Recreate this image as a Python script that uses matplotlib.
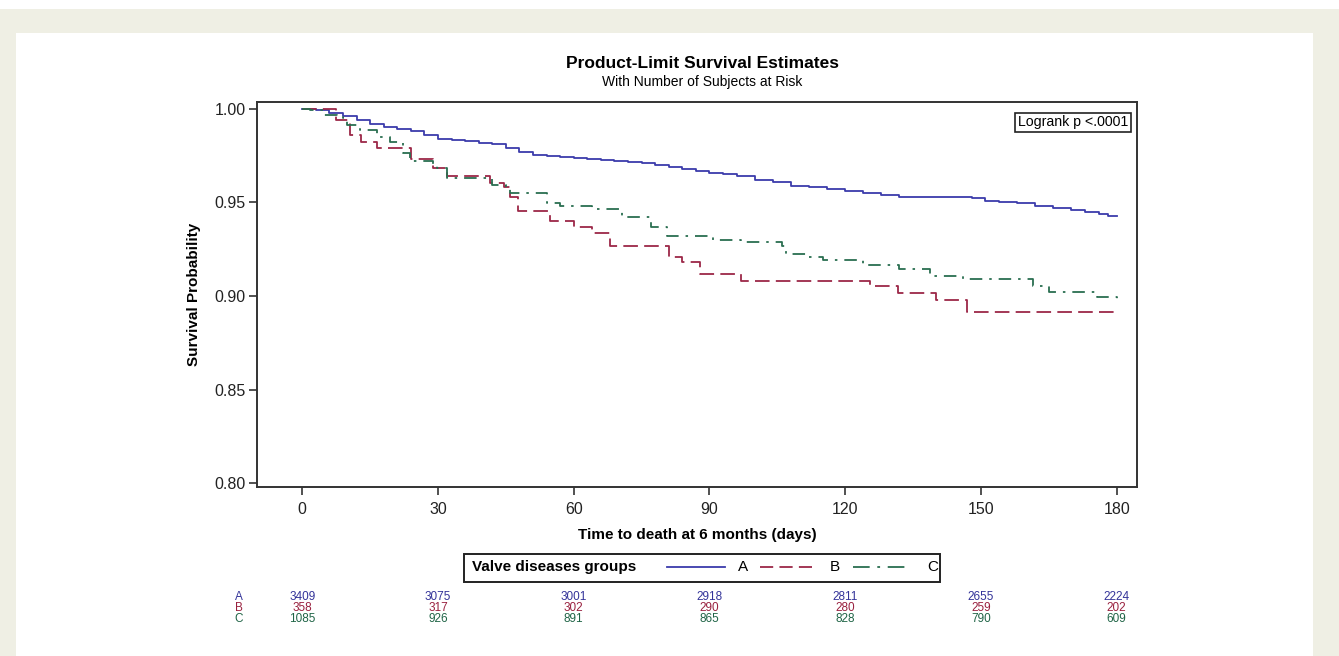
import matplotlib
matplotlib.use("Agg")
import matplotlib.pyplot as plt
from matplotlib import font_manager
from matplotlib.patches import Rectangle
from matplotlib.lines import Line2D
import matplotlib.transforms as mtransforms

# Kaplan-Meier step estimates (day, survival after step)
days_A = [0, 3, 6, 9, 12, 15, 18, 21, 24, 27, 30, 33, 36, 39, 42, 45, 48, 51,
          54, 57, 60, 63, 66, 69, 72, 75, 78, 81, 84, 87, 90, 93, 96, 100, 104,
          108, 112, 116, 120, 124, 128, 132, 148, 151, 154, 158, 162, 166, 170,
          173, 176, 178, 180]
surv_A = [1.000, 0.9995, 0.998, 0.996, 0.994, 0.992, 0.9905, 0.9895, 0.988,
          0.986, 0.984, 0.9835, 0.983, 0.982, 0.981, 0.979, 0.977, 0.9755,
          0.975, 0.9745, 0.974, 0.973, 0.9725, 0.972, 0.9715, 0.971, 0.970,
          0.969, 0.968, 0.967, 0.966, 0.965, 0.964, 0.962, 0.961, 0.959,
          0.958, 0.957, 0.956, 0.955, 0.954, 0.953, 0.9525, 0.951, 0.950,
          0.9495, 0.948, 0.947, 0.946, 0.945, 0.944, 0.943, 0.943]

days_B = [0, 7.5, 10.5, 13, 16.5, 24, 29, 32, 41.5, 44.5, 46, 47.7, 54.8, 60,
          64, 68, 81, 84, 88, 97, 125.5, 131.6, 140, 147, 180]
surv_B = [1.000, 0.994, 0.986, 0.9825, 0.979, 0.973, 0.9686, 0.9644, 0.9606,
          0.9585, 0.953, 0.9457, 0.940, 0.9367, 0.9335, 0.9266, 0.921, 0.918,
          0.9117, 0.908, 0.9053, 0.9016, 0.898, 0.8915, 0.8915]

days_C = [0, 1.8, 4.7, 7.7, 9, 10, 12.8, 16.5, 19.4, 22.3, 23.8, 29, 29.8, 32,
          42, 45, 46, 54, 57, 64, 70.7, 77, 80.6, 90.8, 97, 106, 107, 112, 115,
          124, 132, 138.7, 146, 161.5, 165, 175.6, 180]
surv_C = [1.000, 0.9995, 0.997, 0.996, 0.995, 0.9915, 0.989, 0.985, 0.9825,
          0.9766, 0.9723, 0.970, 0.9686, 0.963, 0.9596, 0.9585, 0.9553, 0.9495,
          0.948, 0.9463, 0.942, 0.937, 0.932, 0.930, 0.9287, 0.9266, 0.9223,
          0.9207, 0.919, 0.9165, 0.9144, 0.9107, 0.909, 0.9053, 0.902, 0.8995,
          0.898]

groups = ["A", "B", "C"]
risk_days = [0, 30, 60, 90, 120, 150, 180]
risk_A = [3409, 3075, 3001, 2918, 2811, 2655, 2224]
risk_B = [358, 317, 302, 290, 280, 259, 202]
risk_C = [1085, 926, 891, 865, 828, 790, 609]

line_col = {"A": "#3c3cab", "B": "#9c2848", "C": "#2a6e50"}
text_col = {"A": "#333399", "B": "#99203e", "C": "#1f6446"}
dash = {"A": None, "B": (0, (10.5, 4.5)), "C": (0, (9.0, 5.0, 1.8, 5.0))}
legend_dash = {"A": None, "B": (0, (9.5, 4.5)), "C": (0, (12.0, 5.5, 2.0, 5.5))}

names = {f.name for f in font_manager.fontManager.ttflist}
narrow = "Liberation Sans Narrow" if "Liberation Sans Narrow" in names else "Liberation Sans"

plt.rcParams["font.family"] = "Liberation Sans"
plt.rcParams["lines.scale_dashes"] = False

W, H = 1339, 656
fig = plt.figure(figsize=(W / 100, H / 100), dpi=100, facecolor="white")

# beige frame with white panel
fig.add_artist(Rectangle((0, 0), 1, 1 - 9 / H, transform=fig.transFigure,
                         facecolor="#efefe4", edgecolor="none", zorder=-10))
fig.add_artist(Rectangle((16 / W, 0), (1313 - 16) / W, 1 - 33 / H,
                         transform=fig.transFigure, facecolor="white",
                         edgecolor="none", zorder=-9))

ax = fig.add_axes([257 / W, 1 - 487 / H, (1137 - 257) / W, (487 - 102) / H])
ax.set_facecolor("white")

for g, d, s in [("A", days_A, surv_A), ("B", days_B, surv_B), ("C", days_C, surv_C)]:
    kw = {}
    if dash[g] is not None:
        kw["linestyle"] = dash[g]
    ax.step(d, s, where="post", color=line_col[g], lw=1.3, **kw)

ax.set_xlim(-10, 184.5)
ax.set_ylim(0.7979, 1.0037)
ax.set_xticks(risk_days)
ax.set_yticks([0.80, 0.85, 0.90, 0.95, 1.00])
ax.set_yticklabels(["0.80", "0.85", "0.90", "0.95", "1.00"])
ax.tick_params(direction="out", length=6, width=1.1, labelsize=11.5, colors="#222222")
ax.tick_params(axis="x", pad=5)
ax.tick_params(axis="y", pad=2)
for sp in ax.spines.values():
    sp.set_linewidth(1.4)
    sp.set_color("#333333")

ax.set_xlabel("Time to death at 6 months (days)", fontsize=11, fontweight="bold", labelpad=8)
ax.set_ylabel("Survival Probability", fontsize=11, fontweight="bold", labelpad=10)

fig.text(702 / W, 1 - 64 / H, "Product-Limit Survival Estimates", ha="center",
         va="center", fontsize=12.5, fontweight="bold")
fig.text(702 / W, 1 - 82 / H, "With Number of Subjects at Risk", ha="center",
         va="center", fontsize=10)

ax.text(0.99, 0.965, "Logrank p <.0001", transform=ax.transAxes, ha="right", va="top",
        fontsize=10.2, bbox=dict(boxstyle="square,pad=0.2", facecolor="white",
                                 edgecolor="#222222", lw=1.2))

# legend box
fig.add_artist(Rectangle((464 / W, 1 - 582 / H), (940 - 464) / W, 28 / H,
                         transform=fig.transFigure, facecolor="white",
                         edgecolor="#222222", lw=1.4))
fig.text(472 / W, 1 - 567 / H, "Valve diseases groups", ha="left", va="center",
         fontsize=11, fontweight="bold", family=narrow)
legend_pos = {"A": (667, 725, 738), "B": (760, 812, 830), "C": (853, 912, 927)}
for g in groups:
    x0, x1, xt = legend_pos[g]
    kw = {}
    if legend_dash[g] is not None:
        kw["linestyle"] = legend_dash[g]
    fig.add_artist(Line2D([x0 / W, x1 / W], [1 - 567 / H, 1 - 567 / H],
                          transform=fig.transFigure, color=line_col[g], lw=1.3, **kw))
    fig.text(xt / W, 1 - 567 / H, g, ha="left", va="center", fontsize=11, family=narrow)

# number at risk table
trans = mtransforms.blended_transform_factory(ax.transData, fig.transFigure)
rows_y = {"A": 597, "B": 608, "C": 619}
risk = {"A": risk_A, "B": risk_B, "C": risk_C}
for g in groups:
    y = 1 - rows_y[g] / H
    fig.text(239 / W, y, g, ha="center", va="center", fontsize=8.5,
             family=narrow, color=text_col[g])
    for d, n in zip(risk_days, risk[g]):
        ax.text(d, y, str(n), transform=trans, ha="center", va="center",
                fontsize=8.5, family=narrow, color=text_col[g], clip_on=False)

fig.savefig("out.png", dpi=100, facecolor=fig.get_facecolor())
